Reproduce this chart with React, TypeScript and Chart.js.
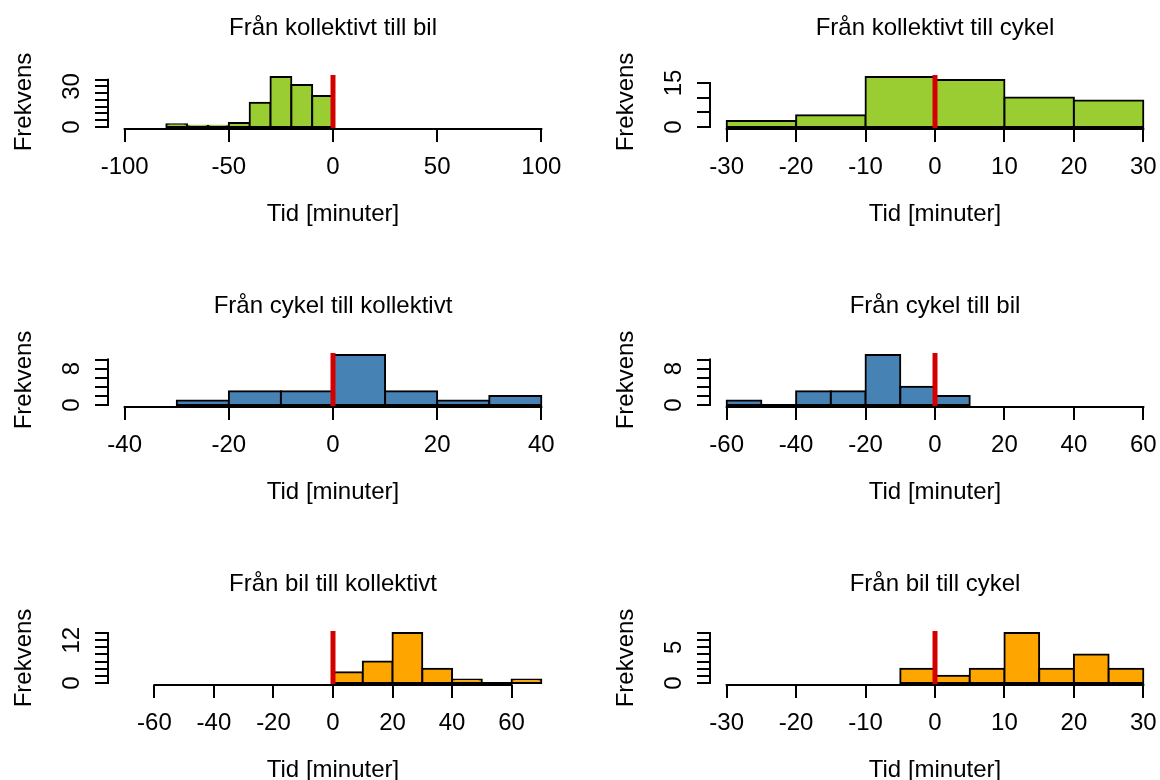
import React, { useEffect, useRef } from "react";
import { Chart, registerables } from "chart.js";

Chart.register(...registerables);

// ---------- data ----------
const titles = [
  "Från kollektivt till bil",
  "Från kollektivt till cykel",
  "Från cykel till kollektivt",
  "Från cykel till bil",
  "Från bil till kollektivt",
  "Från bil till cykel",
];

const kollBilBreaks = [-80, -70, -60, -50, -40, -30, -20, -10, 0];
const kollBilCounts = [2, 1, 1, 3, 18, 37, 31, 23];
const kollCykelBreaks = [-30, -20, -10, 0, 10, 20, 30];
const kollCykelCounts = [2, 4, 17, 16, 10, 9];
const cykelKollBreaks = [-30, -20, -10, 0, 10, 20, 30, 40];
const cykelKollCounts = [1, 3, 3, 11, 3, 1, 2];
const cykelBilBreaks = [-60, -50, -40, -30, -20, -10, 0, 10];
const cykelBilCounts = [1, 0, 3, 3, 11, 4, 2];
const bilKollBreaks = [0, 10, 20, 30, 40, 50, 60, 70];
const bilKollCounts = [3, 6, 14, 4, 1, 0, 1];
const bilCykelBreaks = [-5, 0, 5, 10, 15, 20, 25, 30];
const bilCykelCounts = [2, 1, 2, 7, 2, 4, 2];

const kollBilXlim = [-100, 100];
const kollCykelXlim = [-30, 30];
const cykelKollXlim = [-40, 40];
const cykelBilXlim = [-60, 60];
const bilKollXlim = [-70, 70];
const bilCykelXlim = [-30, 30];

const kollBilXTicks = [-100, -50, 0, 50, 100];
const kollCykelXTicks = [-30, -20, -10, 0, 10, 20, 30];
const cykelKollXTicks = [-40, -20, 0, 20, 40];
const cykelBilXTicks = [-60, -40, -20, 0, 20, 40, 60];
const bilKollXTicks = [-60, -40, -20, 0, 20, 40, 60];
const bilCykelXTicks = [-30, -20, -10, 0, 10, 20, 30];

const kollBilYTicks = [0, 5, 10, 15, 20, 25, 30, 35];
const kollCykelYTicks = [0, 5, 10, 15];
const cykelKollYTicks = [0, 2, 4, 6, 8, 10];
const cykelBilYTicks = [0, 2, 4, 6, 8, 10];
const bilKollYTicks = [0, 2, 4, 6, 8, 10, 12, 14];
const bilCykelYTicks = [0, 1, 2, 3, 4, 5, 6, 7];

const kollBilYLabels = [0, 30];
const kollCykelYLabels = [0, 15];
const cykelKollYLabels = [0, 8];
const cykelBilYLabels = [0, 8];
const bilKollYLabels = [0, 12];
const bilCykelYLabels = [0, 5];

const xTitle = "Tid [minuter]";
const yTitle = "Frekvens";
const refValue = 0;

const GREEN = "#9ACD32";
const BLUE = "#4682B4";
const ORANGE = "#FFA500";
const RED = "#D40000";

const panels = [
  { title: titles[0], breaks: kollBilBreaks, counts: kollBilCounts, xlim: kollBilXlim, xTicks: kollBilXTicks, yTicks: kollBilYTicks, yLabels: kollBilYLabels, color: GREEN },
  { title: titles[1], breaks: kollCykelBreaks, counts: kollCykelCounts, xlim: kollCykelXlim, xTicks: kollCykelXTicks, yTicks: kollCykelYTicks, yLabels: kollCykelYLabels, color: GREEN },
  { title: titles[2], breaks: cykelKollBreaks, counts: cykelKollCounts, xlim: cykelKollXlim, xTicks: cykelKollXTicks, yTicks: cykelKollYTicks, yLabels: cykelKollYLabels, color: BLUE },
  { title: titles[3], breaks: cykelBilBreaks, counts: cykelBilCounts, xlim: cykelBilXlim, xTicks: cykelBilXTicks, yTicks: cykelBilYTicks, yLabels: cykelBilYLabels, color: BLUE },
  { title: titles[4], breaks: bilKollBreaks, counts: bilKollCounts, xlim: bilKollXlim, xTicks: bilKollXTicks, yTicks: bilKollYTicks, yLabels: bilKollYLabels, color: ORANGE },
  { title: titles[5], breaks: bilCykelBreaks, counts: bilCykelCounts, xlim: bilCykelXlim, xTicks: bilCykelXTicks, yTicks: bilCykelYTicks, yLabels: bilCykelYLabels, color: ORANGE },
];

// ---------- layout ----------
const W = 602;
const H = 278;
const PLOT_LEFT = 108;
const PLOT_RIGHT = 558;
const PLOT_TOP = 75;
const PLOT_BOTTOM = 129;
const TCL = 13;
const FONT = '24px "Liberation Sans", Arial, Helvetica, sans-serif';

type PanelCfg = (typeof panels)[number];

function rAxesPlugin(cfg: PanelCfg) {
  return {
    id: "rAxes",
    afterDraw(chart: any) {
      const { ctx, chartArea } = chart;
      const xs = chart.scales.x;
      const ys = chart.scales.y;
      ctx.save();
      ctx.strokeStyle = "#000";
      ctx.fillStyle = "#000";
      ctx.lineWidth = 2;
      ctx.lineCap = "butt";
      ctx.font = FONT;

      // x axis
      const xb = chartArea.bottom;
      const xa = xs.getPixelForValue(cfg.xTicks[0]);
      const xz = xs.getPixelForValue(cfg.xTicks[cfg.xTicks.length - 1]);
      ctx.beginPath();
      ctx.moveTo(xa - 1, xb);
      ctx.lineTo(xz + 1, xb);
      for (const t of cfg.xTicks) {
        const px = Math.round(xs.getPixelForValue(t));
        ctx.moveTo(px, xb);
        ctx.lineTo(px, xb + TCL);
      }
      ctx.stroke();
      ctx.textAlign = "center";
      ctx.textBaseline = "alphabetic";
      for (const t of cfg.xTicks) {
        ctx.fillText(String(t), xs.getPixelForValue(t), xb + 45);
      }
      const cx = (chartArea.left + chartArea.right) / 2;
      ctx.fillText(xTitle, cx, xb + 92);
      ctx.fillText(cfg.title, cx, 35);

      // y axis
      const yl = chartArea.left;
      const ya = ys.getPixelForValue(cfg.yTicks[0]);
      const yz = ys.getPixelForValue(cfg.yTicks[cfg.yTicks.length - 1]);
      ctx.beginPath();
      ctx.moveTo(yl, ya + 1);
      ctx.lineTo(yl, yz - 1);
      for (const t of cfg.yTicks) {
        const py = Math.round(ys.getPixelForValue(t));
        ctx.moveTo(yl, py);
        ctx.lineTo(yl - TCL, py);
      }
      ctx.stroke();
      for (const t of cfg.yLabels) {
        ctx.save();
        ctx.translate(79, ys.getPixelForValue(t));
        ctx.rotate(-Math.PI / 2);
        ctx.fillText(String(t), 0, 0);
        ctx.restore();
      }
      ctx.save();
      ctx.translate(31, (chartArea.top + chartArea.bottom) / 2);
      ctx.rotate(-Math.PI / 2);
      ctx.fillText(yTitle, 0, 0);
      ctx.restore();

      ctx.restore();
    },
  };
}

function Panel({ cfg, left, top }: { cfg: PanelCfg; left: number; top: number }) {
  const ref = useRef<HTMLCanvasElement>(null);
  useEffect(() => {
    if (!ref.current) return;
    const { breaks, counts } = cfg;
    const bars = counts.map((c, i) => ({ x: (breaks[i] + breaks[i + 1]) / 2, y: c }));
    const [xlo, xhi] = cfg.xlim;
    const xr = xhi - xlo;
    const ymax = Math.max(...counts);
    const ylo = -0.04 * ymax;
    const yhi = 1.04 * ymax;
    const chart = new Chart(ref.current, {
      type: "bar",
      data: {
        datasets: [
          {
            type: "line",
            data: [
              { x: refValue, y: ylo },
              { x: refValue, y: yhi },
            ],
            borderColor: RED,
            borderWidth: 5,
            pointRadius: 0,
            order: 0,
          } as any,
          {
            type: "line",
            data: [
              { x: breaks[0], y: 0 },
              { x: breaks[breaks.length - 1], y: 0 },
            ],
            borderColor: "#000",
            borderWidth: 2,
            pointRadius: 0,
            order: 1,
          } as any,
          {
            type: "bar",
            data: bars,
            backgroundColor: cfg.color,
            borderColor: "#000",
            borderWidth: 2,
            borderSkipped: false,
            inflateAmount: 1,
            barPercentage: 1,
            categoryPercentage: 1,
            order: 2,
          } as any,
        ],
      },
      options: {
        responsive: false,
        animation: false,
        devicePixelRatio: 1,
        events: [],
        layout: {
          padding: { left: PLOT_LEFT, right: W - PLOT_RIGHT, top: PLOT_TOP, bottom: H - PLOT_BOTTOM },
        },
        plugins: {
          legend: { display: false },
          tooltip: { enabled: false },
          title: { display: false },
        },
        scales: {
          x: {
            type: "linear",
            display: false,
            offset: false,
            grid: { offset: false },
            min: xlo - 0.04 * xr,
            max: xhi + 0.04 * xr,
            afterBuildTicks: (s: any) => {
              s.ticks = cfg.xTicks.map((v) => ({ value: v }));
            },
          },
          y: {
            type: "linear",
            display: false,
            min: ylo,
            max: yhi,
            afterBuildTicks: (s: any) => {
              s.ticks = cfg.yTicks.map((v) => ({ value: v }));
            },
          },
        },
      } as any,
      plugins: [rAxesPlugin(cfg)],
    });
    return () => chart.destroy();
  }, [cfg]);
  return (
    <canvas
      ref={ref}
      width={W}
      height={H}
      style={{ position: "absolute", left, top, width: W, height: H, display: "block" }}
    />
  );
}

export default function App() {
  return (
    <div
      style={{
        position: "fixed",
        left: 0,
        top: 0,
        width: 1160,
        height: 780,
        overflow: "hidden",
        background: "#fff",
      }}
    >
      {panels.map((p, i) => (
        <Panel key={i} cfg={p} left={(i % 2) * W} top={Math.floor(i / 2) * H} />
      ))}
    </div>
  );
}
